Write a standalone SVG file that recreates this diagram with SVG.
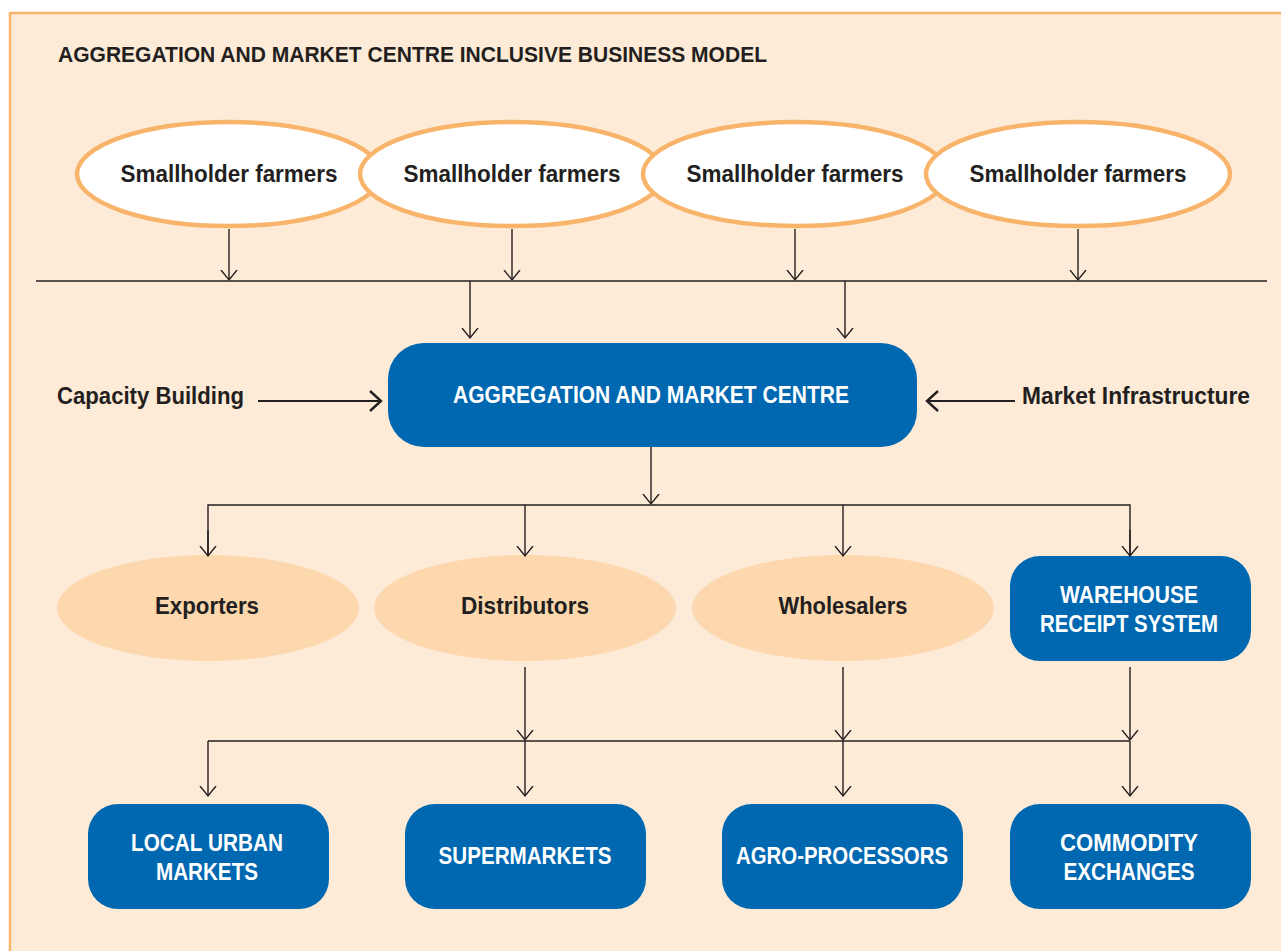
<svg xmlns="http://www.w3.org/2000/svg" width="1281" height="951" viewBox="0 0 1281 951">
<style>
.t{font-family:"Liberation Sans",Arial,sans-serif;font-weight:bold;font-size:23px;text-anchor:middle}
.dk{fill:#231F20}
.wh{fill:#FFFFFF}
.farm{fill:#FFFFFF;stroke:#F9B46B;stroke-width:4.5}
.buyer{fill:#FDD8AE}
.box{fill:#0067B1}
.ln{fill:none;stroke:#231F20;stroke-width:1.4}
.ln2{fill:none;stroke:#231F20;stroke-width:2.2}
</style>
<defs>
<marker id="arr" markerUnits="userSpaceOnUse" markerWidth="20" markerHeight="20" viewBox="-10 -10 20 20" refX="0" refY="0" orient="auto">
<path d="M-10,-8 L0,0 L-10,8" fill="none" stroke="#231F20" stroke-width="1.4"/>
</marker>
<marker id="arr2" markerUnits="userSpaceOnUse" markerWidth="28" markerHeight="28" viewBox="-14 -14 28 28" refX="0" refY="0" orient="auto">
<path d="M-11,-10 L0,0 L-11,10" fill="none" stroke="#231F20" stroke-width="2.4"/>
</marker>
</defs>
<rect x="0" y="0" width="1281" height="951" fill="#FFFFFF"/>
<rect x="10" y="13" width="1290" height="960" fill="#FEEBD7" stroke="#F9B46B" stroke-width="2.5"/>
<text id="title" x="58" y="62" class="t dk" style="text-anchor:start;font-size:22px" textLength="709" lengthAdjust="spacingAndGlyphs">AGGREGATION AND MARKET CENTRE INCLUSIVE BUSINESS MODEL</text>

<g id="farmers1"><ellipse class="farm" cx="229" cy="174" rx="152" ry="52"/><text class="t dk" x="229" y="182" textLength="217" lengthAdjust="spacingAndGlyphs">Smallholder farmers</text></g>
<g id="farmers2"><ellipse class="farm" cx="512" cy="174" rx="152" ry="52"/><text class="t dk" x="512" y="182" textLength="217" lengthAdjust="spacingAndGlyphs">Smallholder farmers</text></g>
<g id="farmers3"><ellipse class="farm" cx="795" cy="174" rx="152" ry="52"/><text class="t dk" x="795" y="182" textLength="217" lengthAdjust="spacingAndGlyphs">Smallholder farmers</text></g>
<g id="farmers4"><ellipse class="farm" cx="1078" cy="174" rx="152" ry="52"/><text class="t dk" x="1078" y="182" textLength="217" lengthAdjust="spacingAndGlyphs">Smallholder farmers</text></g>

<g id="amc"><rect class="box" x="388" y="343" width="529" height="104" rx="36"/><text class="t wh" x="651" y="403" textLength="396" lengthAdjust="spacingAndGlyphs">AGGREGATION AND MARKET CENTRE</text></g>
<g id="capacity"><text class="t dk" x="57" y="404" style="text-anchor:start" textLength="187" lengthAdjust="spacingAndGlyphs">Capacity Building</text></g>
<g id="infra"><text class="t dk" x="1022" y="404" style="text-anchor:start" textLength="228" lengthAdjust="spacingAndGlyphs">Market Infrastructure</text></g>

<g id="exporters"><ellipse class="buyer" cx="208" cy="608" rx="151" ry="53"/><text class="t dk" x="207" y="614" textLength="104" lengthAdjust="spacingAndGlyphs">Exporters</text></g>
<g id="distributors"><ellipse class="buyer" cx="525" cy="608" rx="151" ry="53"/><text class="t dk" x="525" y="614" textLength="128" lengthAdjust="spacingAndGlyphs">Distributors</text></g>
<g id="wholesalers"><ellipse class="buyer" cx="843" cy="608" rx="151" ry="53"/><text class="t dk" x="843" y="614" textLength="129" lengthAdjust="spacingAndGlyphs">Wholesalers</text></g>
<g id="warehouse"><rect class="box" x="1010" y="556" width="241" height="105" rx="30"/><text class="t wh" x="1129" y="603" textLength="138" lengthAdjust="spacingAndGlyphs">WAREHOUSE</text><text class="t wh" x="1129" y="632" textLength="178" lengthAdjust="spacingAndGlyphs">RECEIPT SYSTEM</text></g>

<g id="local"><rect class="box" x="88" y="804" width="241" height="105" rx="30"/><text class="t wh" x="207" y="851" textLength="152" lengthAdjust="spacingAndGlyphs">LOCAL URBAN</text><text class="t wh" x="207" y="880" textLength="102" lengthAdjust="spacingAndGlyphs">MARKETS</text></g>
<g id="supermarkets"><rect class="box" x="405" y="804" width="241" height="105" rx="30"/><text class="t wh" x="525" y="864" textLength="173" lengthAdjust="spacingAndGlyphs">SUPERMARKETS</text></g>
<g id="agro"><rect class="box" x="722" y="804" width="241" height="105" rx="30"/><text class="t wh" x="842" y="864" textLength="212" lengthAdjust="spacingAndGlyphs">AGRO-PROCESSORS</text></g>
<g id="commodity"><rect class="box" x="1010" y="804" width="241" height="105" rx="30"/><text class="t wh" x="1129" y="851" textLength="138" lengthAdjust="spacingAndGlyphs">COMMODITY</text><text class="t wh" x="1129" y="880" textLength="131" lengthAdjust="spacingAndGlyphs">EXCHANGES</text></g>

<g id="connectors">
<line class="ln" x1="229" y1="229" x2="229" y2="280" marker-end="url(#arr)"/>
<line class="ln" x1="512" y1="229" x2="512" y2="280" marker-end="url(#arr)"/>
<line class="ln" x1="795" y1="229" x2="795" y2="280" marker-end="url(#arr)"/>
<line class="ln" x1="1078" y1="229" x2="1078" y2="280" marker-end="url(#arr)"/>
<line class="ln" x1="36" y1="281" x2="1267" y2="281"/>
<line class="ln" x1="470" y1="281" x2="470" y2="338" marker-end="url(#arr)"/>
<line class="ln" x1="845" y1="281" x2="845" y2="338" marker-end="url(#arr)"/>
<line class="ln2" x1="258" y1="401" x2="381" y2="401" marker-end="url(#arr2)"/>
<line class="ln2" x1="1015" y1="401" x2="927" y2="401" marker-end="url(#arr2)"/>
<line class="ln" x1="651" y1="447" x2="651" y2="504" marker-end="url(#arr)"/>
<polyline class="ln" points="208,556 208,505 1130,505 1130,556"/>
<line class="ln" x1="208" y1="530" x2="208" y2="556" marker-end="url(#arr)"/>
<line class="ln" x1="525" y1="505" x2="525" y2="556" marker-end="url(#arr)"/>
<line class="ln" x1="843" y1="505" x2="843" y2="556" marker-end="url(#arr)"/>
<line class="ln" x1="1130" y1="530" x2="1130" y2="556" marker-end="url(#arr)"/>
<line class="ln" x1="525" y1="667" x2="525" y2="740" marker-end="url(#arr)"/>
<line class="ln" x1="843" y1="667" x2="843" y2="740" marker-end="url(#arr)"/>
<line class="ln" x1="1130" y1="667" x2="1130" y2="740" marker-end="url(#arr)"/>
<line class="ln" x1="208" y1="741" x2="1130" y2="741"/>
<line class="ln" x1="208" y1="741" x2="208" y2="796" marker-end="url(#arr)"/>
<line class="ln" x1="525" y1="741" x2="525" y2="796" marker-end="url(#arr)"/>
<line class="ln" x1="843" y1="741" x2="843" y2="796" marker-end="url(#arr)"/>
<line class="ln" x1="1130" y1="741" x2="1130" y2="796" marker-end="url(#arr)"/>
</g>
</svg>
